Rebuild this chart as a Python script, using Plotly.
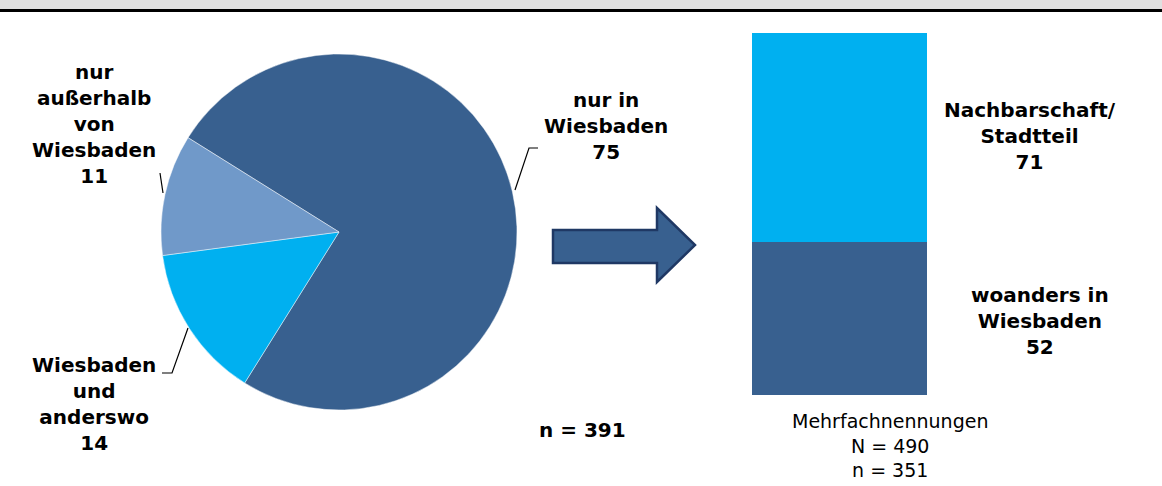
import plotly.graph_objects as go

W, H = 1162, 486

# pie: where do people go (percent)
pie_labels = ["nur in Wiesbaden", "Wiesbaden und anderswo", "nur außerhalb von Wiesbaden"]
pie_values = [75, 14, 11]
pie_colors = ["#38608f", "#00b0f0", "#7099c9"]

# stacked bar: multiple answers within Wiesbaden
bar_labels = ["woanders in Wiesbaden", "Nachbarschaft/Stadtteil"]
bar_values = [52, 71]
bar_colors = ["#38608f", "#00b0f0"]

n_pie = 391
N_multi = 490
n_multi = 351

FONT = "DejaVu Sans, Liberation Sans, Arial, sans-serif"


def px(x):
    return x / W


def py(y):
    return 1 - y / H


fig = go.Figure()

fig.add_trace(go.Pie(
    labels=pie_labels,
    values=pie_values,
    sort=False,
    direction="clockwise",
    rotation=-58,
    marker=dict(colors=pie_colors, line=dict(color="rgba(255,255,255,0.45)", width=1)),
    textinfo="none",
    hoverinfo="label+value",
    showlegend=False,
    domain=dict(x=[px(161), px(517)], y=[py(410), py(54)]),
))

for lab, val, col in zip(bar_labels, bar_values, bar_colors):
    fig.add_trace(go.Bar(
        x=[0], y=[val], name=lab,
        marker=dict(color=col, line=dict(width=0)),
        width=1, showlegend=False,
        xaxis="x", yaxis="y",
    ))

fig.update_layout(
    width=W, height=H,
    margin=dict(l=0, r=0, t=0, b=0),
    paper_bgcolor="white",
    plot_bgcolor="rgba(0,0,0,0)",
    barmode="stack",
    font=dict(family=FONT, color="black"),
    xaxis=dict(domain=[px(752), px(927)], range=[-0.5, 0.5], visible=False, fixedrange=True),
    yaxis=dict(domain=[py(395), py(33)], range=[0, sum(bar_values)], visible=False, fixedrange=True),
)

shapes = []
# header band + rule
shapes.append(dict(type="rect", xref="paper", yref="paper", x0=0, x1=1, y0=py(9), y1=1,
                   fillcolor="#e0e0e0", line=dict(width=0), layer="below"))
shapes.append(dict(type="line", xref="paper", yref="paper", x0=0, x1=1, y0=py(10.5), y1=py(10.5),
                   line=dict(color="black", width=3)))

# block arrow
pts = [(553, 230), (657, 230), (657, 208), (695, 245), (657, 282), (657, 263), (553, 263)]
path = "M " + " L ".join(f"{px(x)},{py(y)}" for x, y in pts) + " Z"
shapes.append(dict(type="path", xref="paper", yref="paper", path=path,
                   fillcolor="#38608f", line=dict(color="#1f3864", width=2.5)))

# leader lines
leaders = [
    [(515, 190), (529, 148), (538, 148)],
    [(163, 193), (160, 173)],
    [(188, 328), (172, 373), (162, 373)],
]
for ln in leaders:
    p = "M " + " L ".join(f"{px(x)},{py(y)}" for x, y in ln)
    shapes.append(dict(type="path", xref="paper", yref="paper", path=p,
                       line=dict(color="black", width=1.2)))

fig.update_layout(shapes=shapes)

bold = dict(size=20, family=FONT, color="black")
annos = [
    ("<b>nur in<br>Wiesbaden<br>%d</b>" % pie_values[0], 606, 126),
    ("<b>nur<br>außerhalb<br>von<br>Wiesbaden<br>%d</b>" % pie_values[2], 94, 124),
    ("<b>Wiesbaden<br>und<br>anderswo<br>%d</b>" % pie_values[1], 94, 404),
    ("<b>Nachbarschaft/<br>Stadtteil<br>%d</b>" % bar_values[1], 1030, 136),
    ("<b>woanders in<br>Wiesbaden<br>%d</b>" % bar_values[0], 1040, 321),
    ("<b>n = %d</b>" % n_pie, 582, 430),
]
annotations = []
for txt, x, y in annos:
    annotations.append(dict(text=txt, x=px(x), y=py(y), xref="paper", yref="paper",
                            xanchor="center", yanchor="middle", showarrow=False,
                            font=bold, align="center"))
annotations.append(dict(
    text="Mehrfachnennungen<br>N = %d<br>n = %d" % (N_multi, n_multi),
    x=px(890), y=py(445), xref="paper", yref="paper",
    xanchor="center", yanchor="middle", showarrow=False, align="center",
    font=dict(size=19, family=FONT, color="black"),
))
fig.update_layout(annotations=annotations)

fig.write_html("out.html", config={"displayModeBar": False},
               post_script="document.body.style.margin='0';")
